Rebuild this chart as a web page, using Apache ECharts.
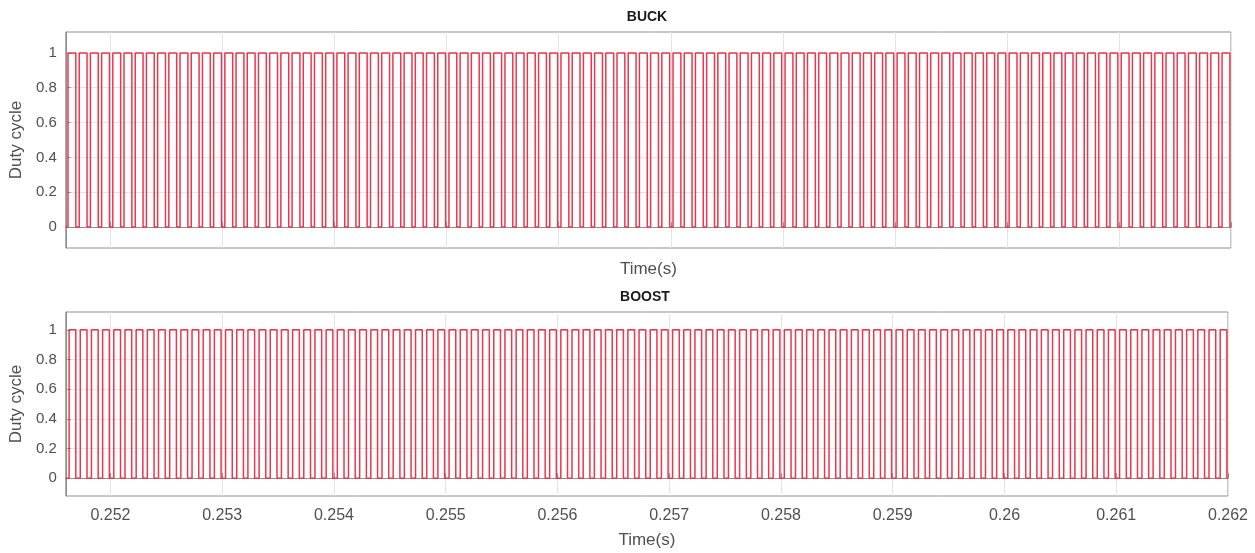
<!DOCTYPE html>
<html>
<head>
<meta charset="utf-8">
<title>BUCK / BOOST duty cycle</title>
<script src="https://cdn.jsdelivr.net/npm/echarts@6/dist/echarts.min.js"></script>
<style>
  html, body { margin: 0; padding: 0; background: #fff; }
  #chart { width: 1255px; height: 553px; }
</style>
</head>
<body>
<div id="chart"></div>
<script>
// Switching edges in milliseconds, alternating rise / fall (first entry is a rise).
const buckEdges = [
  251.62, 251.69, 251.72, 251.79, 251.82, 251.89, 251.92, 251.99,
  252.02, 252.09, 252.12, 252.19, 252.22, 252.29, 252.32, 252.39, 252.42, 252.49, 252.52, 252.59, 252.62, 252.69, 252.72, 252.79, 252.82, 252.89, 252.92, 252.99,
  253.02, 253.09, 253.12, 253.19, 253.22, 253.29, 253.32, 253.39, 253.42, 253.49, 253.52, 253.59, 253.62, 253.69, 253.72, 253.79, 253.82, 253.89, 253.92, 253.99,
  254.02, 254.09, 254.12, 254.19, 254.22, 254.29, 254.32, 254.39, 254.42, 254.49, 254.52, 254.59, 254.62, 254.69, 254.72, 254.79, 254.82, 254.89, 254.92, 254.99,
  255.02, 255.09, 255.12, 255.19, 255.22, 255.29, 255.32, 255.39, 255.42, 255.49, 255.52, 255.59, 255.62, 255.69, 255.72, 255.79, 255.82, 255.89, 255.92, 255.99,
  256.02, 256.09, 256.12, 256.19, 256.22, 256.29, 256.32, 256.39, 256.42, 256.49, 256.52, 256.59, 256.62, 256.69, 256.72, 256.79, 256.82, 256.89, 256.92, 256.99,
  257.02, 257.09, 257.12, 257.19, 257.22, 257.29, 257.32, 257.39, 257.42, 257.49, 257.52, 257.59, 257.62, 257.69, 257.72, 257.79, 257.82, 257.89, 257.92, 257.99,
  258.02, 258.09, 258.12, 258.19, 258.22, 258.29, 258.32, 258.39, 258.42, 258.49, 258.52, 258.59, 258.62, 258.69, 258.72, 258.79, 258.82, 258.89, 258.92, 258.99,
  259.02, 259.09, 259.12, 259.19, 259.22, 259.29, 259.32, 259.39, 259.42, 259.49, 259.52, 259.59, 259.62, 259.69, 259.72, 259.79, 259.82, 259.89, 259.92, 259.99,
  260.02, 260.09, 260.12, 260.19, 260.22, 260.29, 260.32, 260.39, 260.42, 260.49, 260.52, 260.59, 260.62, 260.69, 260.72, 260.79, 260.82, 260.89, 260.92, 260.99,
  261.02, 261.09, 261.12, 261.19, 261.22, 261.29, 261.32, 261.39, 261.42, 261.49, 261.52, 261.59, 261.62, 261.69, 261.72, 261.79, 261.82, 261.89, 261.92, 261.99
];

const boostEdges = [
  251.63, 251.69, 251.73, 251.79, 251.83, 251.89, 251.93, 251.99,
  252.03, 252.09, 252.13, 252.19, 252.23, 252.29, 252.33, 252.39, 252.43, 252.49, 252.53, 252.59, 252.63, 252.69, 252.73, 252.79, 252.83, 252.89, 252.93, 252.99,
  253.03, 253.09, 253.13, 253.19, 253.23, 253.29, 253.33, 253.39, 253.43, 253.49, 253.53, 253.59, 253.63, 253.69, 253.73, 253.79, 253.83, 253.89, 253.93, 253.99,
  254.03, 254.09, 254.13, 254.19, 254.23, 254.29, 254.33, 254.39, 254.43, 254.49, 254.53, 254.59, 254.63, 254.69, 254.73, 254.79, 254.83, 254.89, 254.93, 254.99,
  255.03, 255.09, 255.13, 255.19, 255.23, 255.29, 255.33, 255.39, 255.43, 255.49, 255.53, 255.59, 255.63, 255.69, 255.73, 255.79, 255.83, 255.89, 255.93, 255.99,
  256.03, 256.09, 256.13, 256.19, 256.23, 256.29, 256.33, 256.39, 256.43, 256.49, 256.53, 256.59, 256.63, 256.69, 256.73, 256.79, 256.83, 256.89, 256.93, 256.99,
  257.03, 257.09, 257.13, 257.19, 257.23, 257.29, 257.33, 257.39, 257.43, 257.49, 257.53, 257.59, 257.63, 257.69, 257.73, 257.79, 257.83, 257.89, 257.93, 257.99,
  258.03, 258.09, 258.13, 258.19, 258.23, 258.29, 258.33, 258.39, 258.43, 258.49, 258.53, 258.59, 258.63, 258.69, 258.73, 258.79, 258.83, 258.89, 258.93, 258.99,
  259.03, 259.09, 259.13, 259.19, 259.23, 259.29, 259.33, 259.39, 259.43, 259.49, 259.53, 259.59, 259.63, 259.69, 259.73, 259.79, 259.83, 259.89, 259.93, 259.99,
  260.03, 260.09, 260.13, 260.19, 260.23, 260.29, 260.33, 260.39, 260.43, 260.49, 260.53, 260.59, 260.63, 260.69, 260.73, 260.79, 260.83, 260.89, 260.93, 260.99,
  261.03, 261.09, 261.13, 261.19, 261.23, 261.29, 261.33, 261.39, 261.43, 261.49, 261.53, 261.59, 261.63, 261.69, 261.73, 261.79, 261.83, 261.89, 261.93, 261.99
];

const timeTicks = [0.252, 0.253, 0.254, 0.255, 0.256, 0.257, 0.258, 0.259, 0.26, 0.261, 0.262];
const dutyTicks = [0, 0.2, 0.4, 0.6, 0.8, 1];
const timeRange = [0.2516, 0.262];
const dutyRange = [-0.12, 1.12];

// Turn an edge list into square-wave vertices (time in s, level 0/1).
function squareWave(edges, tStart, tEnd) {
  const pts = [[tStart, 0]];
  let level = 0;
  edges.forEach(function (ms) {
    const t = ms / 1000;
    pts.push([t, level]);
    level = 1 - level;
    pts.push([t, level]);
  });
  pts.push([tEnd, level]);
  return pts;
}

const FONT = '"Liberation Sans", Arial, sans-serif';
const AXIS_GREY = '#8f8f8f';
const TEXT_GREY = '#505050';
const GRID_GREY = '#e4e4e4';

function timeAxis(gridIndex, showLabels, nameGap) {
  return {
    type: 'value', gridIndex: gridIndex,
    min: timeRange[0], max: timeRange[1],
    name: 'Time(s)', nameLocation: 'middle', nameGap: nameGap,
    nameTextStyle: { color: TEXT_GREY, fontFamily: FONT, fontSize: 17 },
    axisLine: { show: true, lineStyle: { color: AXIS_GREY, width: 1 } },
    axisTick: { show: true, inside: true, length: 5, customValues: timeTicks, lineStyle: { color: AXIS_GREY } },
    axisLabel: {
      show: showLabels, customValues: timeTicks, margin: 12,
      color: TEXT_GREY, fontFamily: FONT, fontSize: 16,
      formatter: function (v) { return String(Number(v.toFixed(3))); }
    },
    splitLine: { show: true, lineStyle: { color: GRID_GREY, width: 1 } }
  };
}

function dutyAxis(gridIndex) {
  return {
    type: 'value', gridIndex: gridIndex,
    min: dutyRange[0], max: dutyRange[1],
    name: 'Duty cycle', nameLocation: 'middle', nameGap: 37, nameRotate: 90,
    nameTextStyle: { color: TEXT_GREY, fontFamily: FONT, fontSize: 17 },
    axisLine: { show: true, lineStyle: { color: AXIS_GREY, width: 1 } },
    axisTick: { show: true, inside: true, length: 5, customValues: dutyTicks, lineStyle: { color: AXIS_GREY } },
    axisLabel: {
      show: true, customValues: dutyTicks, margin: 9,
      color: TEXT_GREY, fontFamily: FONT, fontSize: 15,
      formatter: function (v) { return String(Number(v.toFixed(1))); }
    },
    splitLine: { show: true, lineStyle: { color: GRID_GREY, width: 1 } }
  };
}

function wave(name, idx, edges) {
  return {
    name: name, type: 'line', xAxisIndex: idx, yAxisIndex: idx,
    data: squareWave(edges, timeRange[0], timeRange[1]),
    showSymbol: false, clip: true, animation: false,
    lineStyle: { color: '#e8384c', width: 1.5 }
  };
}

const chart = echarts.init(document.getElementById('chart'), null, { renderer: 'canvas' });
chart.setOption({
  backgroundColor: '#ffffff',
  animation: false,
  grid: [
    { left: 64, right: 24, top: 32, height: 216, show: true, borderColor: AXIS_GREY, borderWidth: 1, backgroundColor: '#fff' },
    { left: 63, right: 27, top: 312, height: 184, show: true, borderColor: AXIS_GREY, borderWidth: 1, backgroundColor: '#fff' }
  ],
  xAxis: [timeAxis(0, false, 13), timeAxis(1, true, 36)],
  yAxis: [dutyAxis(0), dutyAxis(1)],
  graphic: [
    { type: 'text', x: 647, y: 17, style: { text: 'BUCK', textAlign: 'center', textVerticalAlign: 'middle', fill: '#1a1a1a', font: 'bold 14px ' + FONT } },
    { type: 'text', x: 645, y: 297, style: { text: 'BOOST', textAlign: 'center', textVerticalAlign: 'middle', fill: '#1a1a1a', font: 'bold 14px ' + FONT } }
  ],
  series: [wave('BUCK', 0, buckEdges), wave('BOOST', 1, boostEdges)]
});
</script>
</body>
</html>
